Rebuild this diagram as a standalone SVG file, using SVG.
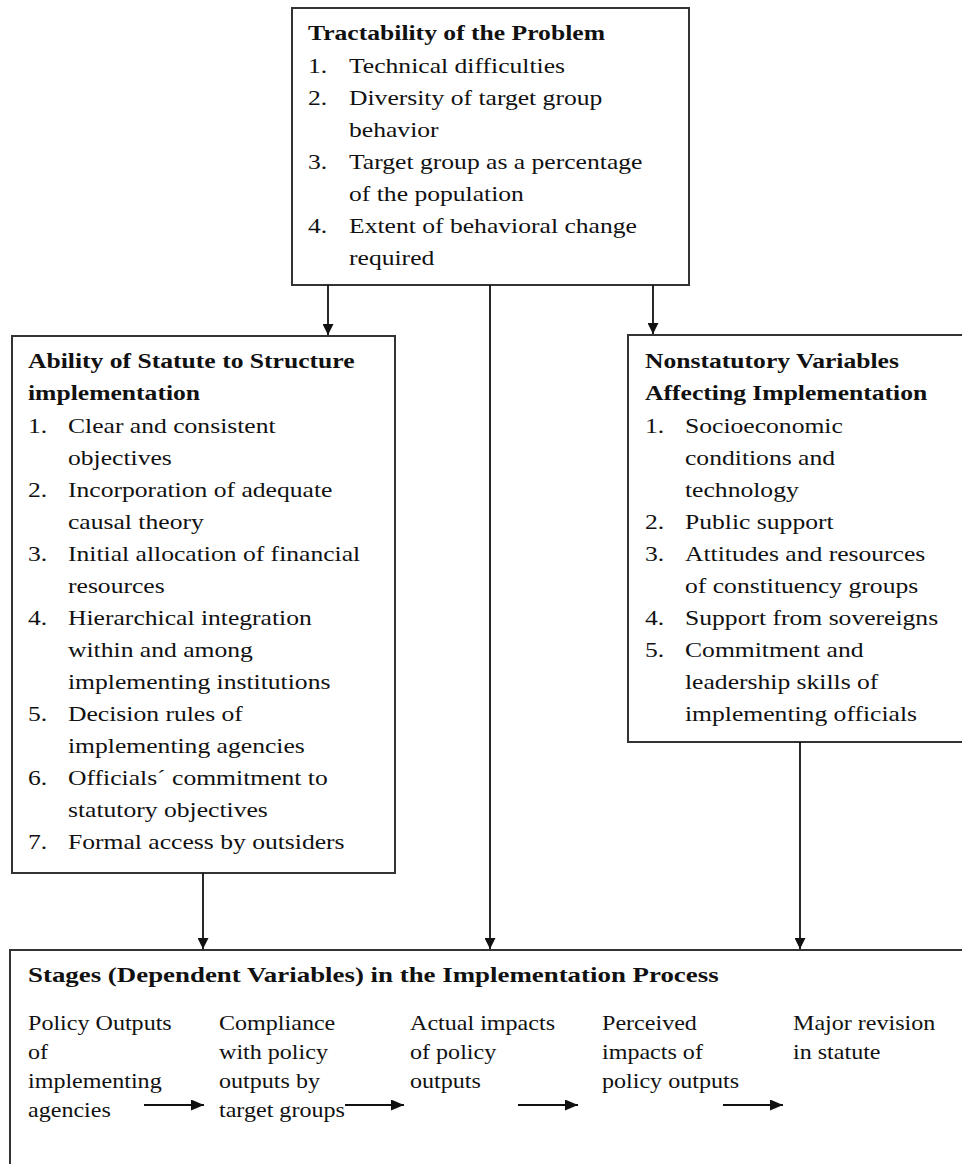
<svg xmlns="http://www.w3.org/2000/svg" width="962" height="1164" viewBox="0 0 962 1164">
<defs>
<style>
.box{fill:#fff;stroke:#333;stroke-width:2}
.t{font-family:"Liberation Serif","Times New Roman",serif;font-size:21px;fill:#111}
.b{font-weight:bold}
.s{font-size:21.5px}
.c{stroke:#111;stroke-width:1.8;fill:none}
</style>
<marker id="ah" markerUnits="userSpaceOnUse" markerWidth="11" markerHeight="11" refX="11" refY="5.5" orient="auto">
<path d="M0,0 L11,5.5 L0,11 Z" fill="#111"/>
</marker>
<marker id="ah2" markerUnits="userSpaceOnUse" markerWidth="13" markerHeight="11" refX="13" refY="5.5" orient="auto">
<path d="M0,0 L13,5.5 L0,11 Z" fill="#111"/>
</marker>
</defs>
<rect width="962" height="1164" fill="#fff"/>

<g id="tractability">
<rect class="box" x="292" y="8" width="397" height="277"/>
<text class="t b" transform="translate(308 40) scale(1.22 1)">Tractability  of the Problem</text>
<text class="t" transform="translate(308 73) scale(1.22 1)">1.</text>
<text class="t" transform="translate(349 73) scale(1.22 1)">Technical  difficulties</text>
<text class="t" transform="translate(308 105) scale(1.22 1)">2.</text>
<text class="t" transform="translate(349 105) scale(1.22 1)">Diversity  of target group</text>
<text class="t" transform="translate(349 137) scale(1.22 1)">behavior</text>
<text class="t" transform="translate(308 169) scale(1.22 1)">3.</text>
<text class="t" transform="translate(349 169) scale(1.22 1)">Target group as a percentage</text>
<text class="t" transform="translate(349 201) scale(1.22 1)">of the population</text>
<text class="t" transform="translate(308 233) scale(1.22 1)">4.</text>
<text class="t" transform="translate(349 233) scale(1.22 1)">Extent of behavioral change</text>
<text class="t" transform="translate(349 265) scale(1.22 1)">required</text>
</g>

<g id="statute">
<rect class="box" x="12" y="336" width="383" height="537"/>
<text class="t b" transform="translate(28 368) scale(1.22 1)">Ability of Statute to Structure</text>
<text class="t b" transform="translate(28 400) scale(1.22 1)">implementation</text>
<text class="t" transform="translate(28 433) scale(1.22 1)">1.</text>
<text class="t" transform="translate(68 433) scale(1.22 1)">Clear and consistent</text>
<text class="t" transform="translate(68 465) scale(1.22 1)">objectives</text>
<text class="t" transform="translate(28 497) scale(1.22 1)">2.</text>
<text class="t" transform="translate(68 497) scale(1.22 1)">Incorporation  of adequate</text>
<text class="t" transform="translate(68 529) scale(1.22 1)">causal theory</text>
<text class="t" transform="translate(28 561) scale(1.22 1)">3.</text>
<text class="t" transform="translate(68 561) scale(1.22 1)">Initial allocation of financial</text>
<text class="t" transform="translate(68 593) scale(1.22 1)">resources</text>
<text class="t" transform="translate(28 625) scale(1.22 1)">4.</text>
<text class="t" transform="translate(68 625) scale(1.22 1)">Hierarchical integration</text>
<text class="t" transform="translate(68 657) scale(1.22 1)">within and among</text>
<text class="t" transform="translate(68 689) scale(1.22 1)">implementing institutions</text>
<text class="t" transform="translate(28 721) scale(1.22 1)">5.</text>
<text class="t" transform="translate(68 721) scale(1.22 1)">Decision rules of</text>
<text class="t" transform="translate(68 753) scale(1.22 1)">implementing agencies</text>
<text class="t" transform="translate(28 785) scale(1.22 1)">6.</text>
<text class="t" transform="translate(68 785) scale(1.22 1)">Officials´ commitment to</text>
<text class="t" transform="translate(68 817) scale(1.22 1)">statutory objectives</text>
<text class="t" transform="translate(28 849) scale(1.22 1)">7.</text>
<text class="t" transform="translate(68 849) scale(1.22 1)">Formal access by outsiders</text>
</g>

<g id="nonstatutory">
<rect class="box" x="628" y="335" width="345" height="407"/>
<text class="t b" transform="translate(645 368) scale(1.22 1)">Nonstatutory Variables</text>
<text class="t b" transform="translate(645 400) scale(1.22 1)">Affecting Implementation</text>
<text class="t" transform="translate(645 433) scale(1.22 1)">1.</text>
<text class="t" transform="translate(685 433) scale(1.22 1)">Socioeconomic</text>
<text class="t" transform="translate(685 465) scale(1.22 1)">conditions  and</text>
<text class="t" transform="translate(685 497) scale(1.22 1)">technology</text>
<text class="t" transform="translate(645 529) scale(1.22 1)">2.</text>
<text class="t" transform="translate(685 529) scale(1.22 1)">Public support</text>
<text class="t" transform="translate(645 561) scale(1.22 1)">3.</text>
<text class="t" transform="translate(685 561) scale(1.22 1)">Attitudes and resources</text>
<text class="t" transform="translate(685 593) scale(1.22 1)">of constituency groups</text>
<text class="t" transform="translate(645 625) scale(1.22 1)">4.</text>
<text class="t" transform="translate(685 625) scale(1.22 1)">Support from sovereigns</text>
<text class="t" transform="translate(645 657) scale(1.22 1)">5.</text>
<text class="t" transform="translate(685 657) scale(1.22 1)">Commitment and</text>
<text class="t" transform="translate(685 689) scale(1.22 1)">leadership skills of</text>
<text class="t" transform="translate(685 721) scale(1.22 1)">implementing officials</text>
</g>

<g id="stages">
<rect class="box" x="10" y="950" width="965" height="230"/>
<text class="t b" transform="translate(28 982) scale(1.28 1)">Stages (Dependent Variables) in the Implementation  Process</text>
<g id="stage-1">
<text class="t s" transform="translate(28 1030) scale(1.12 1)">Policy Outputs</text>
<text class="t s" transform="translate(28 1059) scale(1.12 1)">of</text>
<text class="t s" transform="translate(28 1088) scale(1.12 1)">implementing</text>
<text class="t s" transform="translate(28 1117) scale(1.12 1)">agencies</text>
</g>
<g id="stage-2">
<text class="t s" transform="translate(219 1030) scale(1.12 1)">Compliance</text>
<text class="t s" transform="translate(219 1059) scale(1.12 1)">with policy</text>
<text class="t s" transform="translate(219 1088) scale(1.12 1)">outputs by</text>
<text class="t s" transform="translate(219 1117) scale(1.12 1)">target groups</text>
</g>
<g id="stage-3">
<text class="t s" transform="translate(410 1030) scale(1.12 1)">Actual impacts</text>
<text class="t s" transform="translate(410 1059) scale(1.12 1)">of policy</text>
<text class="t s" transform="translate(410 1088) scale(1.12 1)">outputs</text>
</g>
<g id="stage-4">
<text class="t s" transform="translate(602 1030) scale(1.12 1)">Perceived</text>
<text class="t s" transform="translate(602 1059) scale(1.12 1)">impacts of</text>
<text class="t s" transform="translate(602 1088) scale(1.12 1)">policy outputs</text>
</g>
<g id="stage-5">
<text class="t s" transform="translate(793 1030) scale(1.12 1)">Major revision</text>
<text class="t s" transform="translate(793 1059) scale(1.12 1)">in statute</text>
</g>
</g>

<g id="connectors">
<line class="c" x1="328" y1="285" x2="328" y2="335" marker-end="url(#ah)"/>
<line class="c" x1="490" y1="285" x2="490" y2="949" marker-end="url(#ah)"/>
<line class="c" x1="653" y1="285" x2="653" y2="334" marker-end="url(#ah)"/>
<line class="c" x1="203" y1="873" x2="203" y2="949" marker-end="url(#ah)"/>
<line class="c" x1="800" y1="742" x2="800" y2="949" marker-end="url(#ah)"/>
<line class="c" x1="144" y1="1105" x2="204" y2="1105" marker-end="url(#ah2)"/>
<line class="c" x1="345" y1="1105" x2="404" y2="1105" marker-end="url(#ah2)"/>
<line class="c" x1="518" y1="1105" x2="578" y2="1105" marker-end="url(#ah2)"/>
<line class="c" x1="723" y1="1105" x2="783" y2="1105" marker-end="url(#ah2)"/>
</g>
</svg>
